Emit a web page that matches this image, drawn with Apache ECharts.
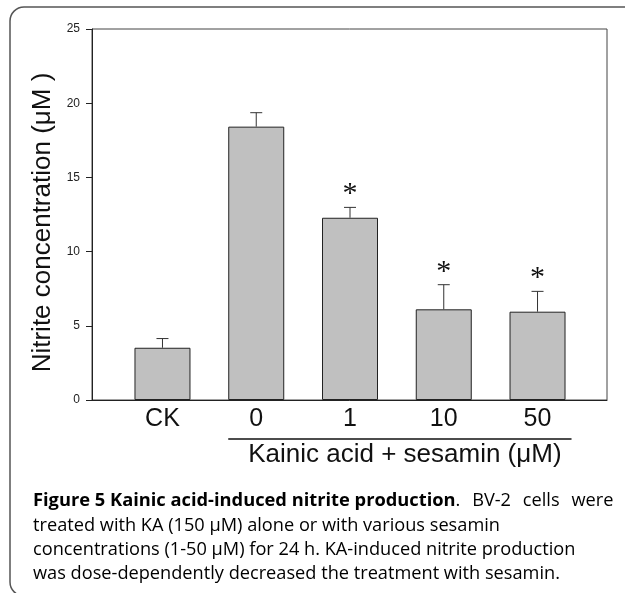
<!DOCTYPE html>
<html>
<head>
<meta charset="utf-8">
<script src="https://cdn.jsdelivr.net/npm/echarts@6/dist/echarts.min.js"></script>
<style>
  html, body { margin: 0; padding: 0; background: #fff; }
  #main { width: 625px; height: 593px; }
</style>
</head>
<body>
<div id="main"></div>
<script>
// Data
const categories = ['CK', '0', '1', '10', '50'];
const meanValues = [3.52, 18.42, 12.28, 6.11, 5.95];
const errorTops = [4.14, 19.36, 12.98, 7.77, 7.32];
const significant = [false, false, true, true, true];
const yTicks = [0, 5, 10, 15, 20, 25];

const axisTitle = 'Nitrite concentration (\u03bcM )';
const groupLabel = 'Kainic acid + sesamin (\u03bcM)';
// first line is justified in the figure, so its words are kept apart
const captionTitle = 'Figure 5 Kainic acid-induced nitrite production';
const captionFirstWords = ['.', 'BV-2', 'cells', 'were'];
const captionLines = [
    'treated with KA (150 \u03bcM) alone or with various sesamin',
    'concentrations (1-50 \u03bcM) for 24 h. KA-induced nitrite production',
    'was dose-dependently decreased the treatment with sesamin.'
];

document.addEventListener("DOMContentLoaded", function () {
    var chartDom = document.getElementById('main');
    var myChart = echarts.init(chartDom, null, { renderer: 'canvas' });

    // error bars + asterisks drawn from the data arrays
    function renderError(params, api) {
        const idx = params.dataIndex;
        const base = api.coord([api.value(0), api.value(1)]);
        const top = api.coord([api.value(0), api.value(2)]);
        const children = [
            {
                type: 'line',
                shape: { x1: base[0], y1: base[1], x2: top[0], y2: top[1] },
                style: { stroke: '#333', lineWidth: 1 }
            },
            {
                type: 'line',
                shape: { x1: top[0] - 6, y1: top[1], x2: top[0] + 6, y2: top[1] },
                style: { stroke: '#333', lineWidth: 1 }
            }
        ];
        if (significant[idx]) {
            children.push({
                type: 'text',
                style: {
                    x: top[0], y: top[1] + 2,
                    text: '*',
                    fontFamily: 'Liberation Serif',
                    fontSize: 30,
                    fill: '#111',
                    align: 'center',
                    verticalAlign: 'bottom'
                }
            });
        }
        return { type: 'group', children: children };
    }

    const errorData = categories.map(function (c, i) {
        return [i, meanValues[i], errorTops[i]];
    });

    // caption as rich text
    const firstLine = '{b|' + captionTitle + '}{n|' + captionFirstWords[0] + '}' +
        captionFirstWords.slice(1).map(function (w) { return '{s| }{n|' + w + '}'; }).join('');
    const captionText = [firstLine].concat(captionLines.map(function (l) {
        return '{n|' + l + '}';
    })).join('\n');

    const option = {
        backgroundColor: '#fff',
        animation: false,
        grid: [
            { left: 92, right: 18, top: 29, bottom: 193, show: true, borderColor: '#444', borderWidth: 1 },
            { left: 115.6, right: 40.6, top: 29, bottom: 193 }
        ],
        xAxis: [
            {
                gridIndex: 0, type: 'value', min: 0, max: 1,
                axisLine: { show: true, onZero: false, lineStyle: { color: '#222' } },
                axisTick: { show: false }, axisLabel: { show: false }, splitLine: { show: false }
            },
            {
                gridIndex: 1, type: 'category', data: categories,
                axisLine: { show: false }, axisTick: { show: false },
                axisLabel: { fontFamily: 'Liberation Sans', fontSize: 25, color: '#111', margin: 7 }
            }
        ],
        yAxis: [
            {
                gridIndex: 0, type: 'value', min: 0, max: 25, interval: 5,
                axisLine: { show: true, lineStyle: { color: '#222' } },
                axisTick: { show: true, length: 6, lineStyle: { color: '#222' } },
                axisLabel: { fontFamily: 'Liberation Sans', fontSize: 12, color: '#222', margin: 12,
                    formatter: function (v) { return yTicks.indexOf(v) >= 0 ? String(v) : ''; } },
                splitLine: { show: false },
                name: axisTitle,
                nameLocation: 'middle',
                nameGap: 30,
                nameRotate: 90,
                nameTextStyle: { fontFamily: 'Liberation Sans', fontSize: 26, color: '#111', padding: [0, 16, 0, 0] }
            },
            {
                gridIndex: 1, type: 'value', min: 0, max: 25, show: false
            }
        ],
        series: [
            {
                type: 'bar',
                xAxisIndex: 1, yAxisIndex: 1,
                data: meanValues,
                barWidth: 56,
                itemStyle: { color: '#c0c0c0', borderColor: '#222', borderWidth: 1 }
            },
            {
                type: 'custom',
                xAxisIndex: 1, yAxisIndex: 1,
                data: errorData,
                renderItem: renderError,
                z: 3
            }
        ],
        graphic: [
            {
                id: 'frame',
                type: 'rect',
                shape: { x: 10, y: 7, width: 700, height: 589, r: 14 },
                style: { fill: 'none', stroke: '#555', lineWidth: 1.5 },
                silent: true
            },
            {
                id: 'caption',
                type: 'text',
                left: 33, top: 492,
                style: {
                    text: captionText,
                    rich: {
                        b: { fontFamily: 'Open Sans', fontWeight: 'bold', fontSize: 18.3, color: '#231f20', lineHeight: 24.4 },
                        n: { fontFamily: 'Open Sans', fontSize: 18.2, color: '#4a4a4a', lineHeight: 24.4 },
                        s: { fontFamily: 'Open Sans', fontSize: 18.2, width: 11.8, lineHeight: 24.4 }
                    }
                }
            }
        ]
    };

    myChart.setOption(option);

    // bracket line and group label under the KA categories
    const leftPx = myChart.convertToPixel({ xAxisIndex: 1 }, 1) - 28;
    const rightPx = myChart.convertToPixel({ xAxisIndex: 1 }, 4) + 34;
    myChart.setOption({
        graphic: [
            {
                id: 'bracket',
                type: 'line',
                shape: { x1: leftPx, y1: 439, x2: rightPx, y2: 439 },
                style: { stroke: '#111', lineWidth: 1.5 }
            },
            {
                id: 'groupLabel',
                type: 'text',
                x: (leftPx + rightPx) / 2 + 5, y: 442,
                style: {
                    text: groupLabel,
                    fontFamily: 'Liberation Sans',
                    fontSize: 26,
                    fill: '#111',
                    align: 'center',
                    verticalAlign: 'top'
                }
            }
        ]
    });
});
</script>
</body>
</html>
